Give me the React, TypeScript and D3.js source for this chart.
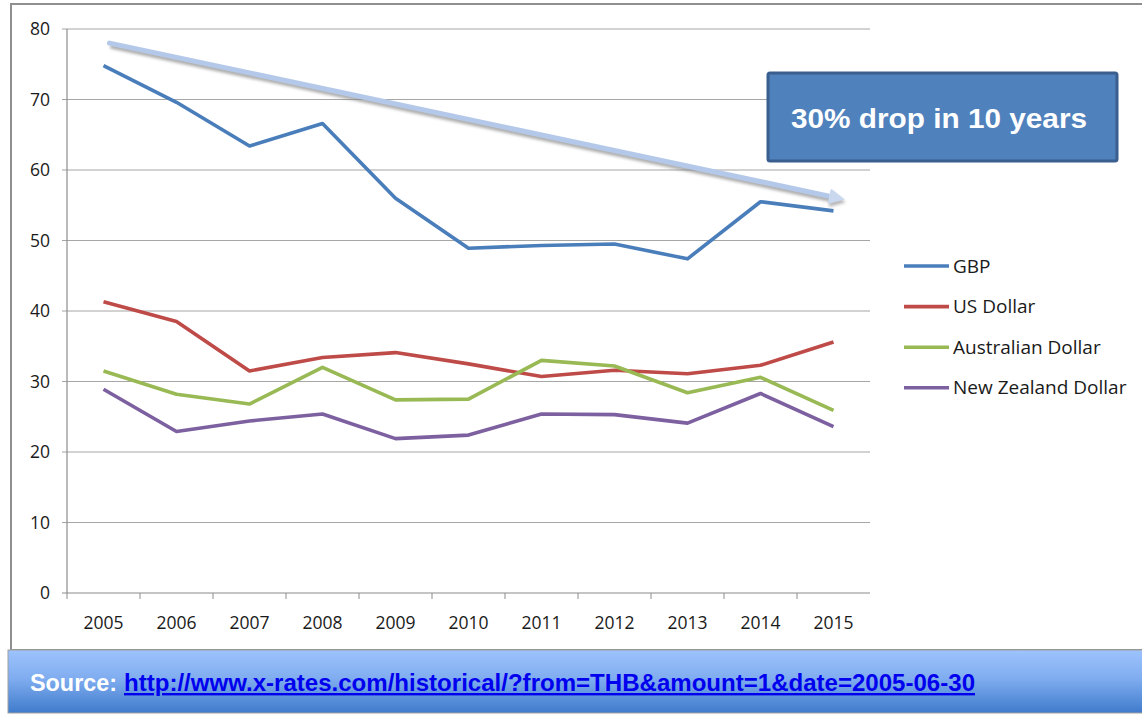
import React from 'react'
import { scaleLinear, scalePoint, line } from 'd3'

const years = ['2005', '2006', '2007', '2008', '2009', '2010', '2011', '2012', '2013', '2014', '2015']
const gbp = [74.8, 69.6, 63.4, 66.6, 56.0, 48.9, 49.3, 49.5, 47.4, 55.5, 54.2]
const usd = [41.3, 38.5, 31.5, 33.4, 34.1, 32.5, 30.7, 31.6, 31.1, 32.3, 35.6]
const aud = [31.5, 28.2, 26.8, 32.0, 27.4, 27.5, 33.0, 32.2, 28.4, 30.6, 25.9]
const nzd = [28.9, 22.9, 24.4, 25.4, 21.9, 22.4, 25.4, 25.3, 24.1, 28.3, 23.6]
const seriesNames = ['GBP', 'US Dollar', 'Australian Dollar', 'New Zealand Dollar']
const seriesColors = ['#4a7ebb', '#be4b48', '#98b954', '#7d60a0']
const yTicks = [0, 10, 20, 30, 40, 50, 60, 70, 80]
const trendFrom = 78
const trendTo = 56
const note = '30% drop in 10 years'
const sourceUrl = 'http://www.x-rates.com/historical/?from=THB&amount=1&date=2005-06-30'

const App = () => {
    const width = 1142
    const height = 715
    const left = 67
    const right = 870
    const top = 29
    const bottom = 593

    const xscale = scalePoint().domain(years).range([left, right]).padding(0.5)
    const yscale = scaleLinear().domain([0, 80]).range([bottom, top])
    const step = xscale.step()

    const allSeries = [gbp, usd, aud, nzd]
    const path = line<number>()
        .x((d, i) => xscale(years[i]) as number)
        .y(d => yscale(d))

    const tickFont = "'Open Sans', sans-serif"
    const boldFont = "'Liberation Sans', Arial, sans-serif"

    const gridLines = yTicks.map(t => (
        <g key={t}>
            <line x1={left - 5} x2={right} y1={yscale(t)} y2={yscale(t)}
                stroke={t === 0 ? '#8c8c8c' : '#a6a6a6'} strokeWidth={1.2} />
            <text x={50} y={yscale(t)} dy='0.36em' textAnchor='end'
                fontSize='17.5px' fontFamily={tickFont} fill='#1a1a1a'>{t}</text>
        </g>
    ))

    const xTicks = years.map((y, i) => (
        <g key={y}>
            <line x1={left + i * step} x2={left + i * step} y1={bottom} y2={bottom + 6} stroke='#8c8c8c' />
            <text x={xscale(y)} y={629} textAnchor='middle'
                fontSize='17.5px' fontFamily={tickFont} fill='#1a1a1a'>{y}</text>
        </g>
    ))

    const lines = allSeries.map((s, i) => (
        <path key={seriesNames[i]} d={path(s) as string} fill='none'
            stroke={seriesColors[i]} strokeWidth={3.6} strokeLinejoin='round' />
    ))

    const legend = seriesNames.map((n, i) => (
        <g key={n} transform={`translate(904, ${266 + i * 40.6})`}>
            <line x1={0} x2={45} y1={0} y2={0} stroke={seriesColors[i]} strokeWidth={3.6} />
            <text x={49} y={0} dy='0.35em' fontSize='19px' fontFamily={tickFont} fill='#1a1a1a'>{n}</text>
        </g>
    ))

    const ax1 = (xscale(years[0]) as number) + 6
    const ay1 = yscale(trendFrom)
    const ax2 = (xscale(years[years.length - 1]) as number) + 5
    const ay2 = yscale(trendTo)

    return (
        <div style={{ position: 'absolute', left: 0, top: 0 }}>
            <svg width={width} height={height} viewBox={`0 0 ${width} ${height}`} style={{ display: 'block' }}>
                <defs>
                    <linearGradient id='band' x1='0' x2='0' y1='0' y2='1'>
                        <stop offset='0' stopColor='#9dc3fc' />
                        <stop offset='0.45' stopColor='#80adf0' />
                        <stop offset='1' stopColor='#3f7bcb' />
                    </linearGradient>
                    <filter id='soft' x='-5%' y='-50%' width='110%' height='200%'>
                        <feGaussianBlur stdDeviation='1.6' />
                    </filter>
                    <marker id='head' viewBox='0 0 10 10' refX='6' refY='5' markerWidth='3.2' markerHeight='3.2' orient='auto'>
                        <path d='M0,0 L10,5 L0,10 z' fill='#c9d8ef' />
                    </marker>
                    <marker id='headShadow' viewBox='0 0 10 10' refX='6' refY='5' markerWidth='3.2' markerHeight='3.2' orient='auto'>
                        <path d='M0,0 L10,5 L0,10 z' fill='#9a9a9a' />
                    </marker>
                </defs>
                <rect x={0} y={0} width={width} height={height} fill='#fff' />
                <rect x={11} y={4} width={width + 20} height={646} fill='#fff' stroke='#8f8f8f' strokeWidth={2} />

                {gridLines}
                <line x1={left} x2={left} y1={top} y2={bottom} stroke='#8c8c8c' strokeWidth={1.2} />
                {xTicks}

                {lines}

                <g filter='url(#soft)' opacity={0.7}>
                    <line x1={ax1 + 1} y1={ay1 + 3} x2={ax2 + 1} y2={ay2 + 3} stroke='#8a8a8a'
                        strokeWidth={5} markerEnd='url(#headShadow)' />
                </g>
                <line x1={ax1} y1={ay1} x2={ax2} y2={ay2} stroke='#b4c9ea'
                    strokeWidth={5} strokeLinecap='round' markerEnd='url(#head)' />

                <rect x={768} y={73} width={349} height={88} fill='#4f81bd' stroke='#3a5f8e' strokeWidth={3} rx={2} />
                <text x={791} y={118} dy='0.35em' fill='#fff' textLength={296} lengthAdjust='spacingAndGlyphs'
                    fontSize='28px' fontWeight='bold' fontFamily={boldFont}>{note}</text>

                {legend}

                <rect x={8} y={650} width={width} height={63} fill='url(#band)' stroke='#a0a0a0' strokeWidth={1} />
                <text x={30} y={691} fill='#fff' textLength={87} lengthAdjust='spacingAndGlyphs'
                    fontSize='24px' fontWeight='bold' fontFamily={boldFont}>Source:</text>
                <text x={124} y={691} fill='#0000ee' textDecoration='underline' textLength={851} lengthAdjust='spacingAndGlyphs'
                    fontSize='24px' fontWeight='bold' fontFamily={boldFont}>{sourceUrl}</text>
            </svg>
        </div>
    )
}

export default App
